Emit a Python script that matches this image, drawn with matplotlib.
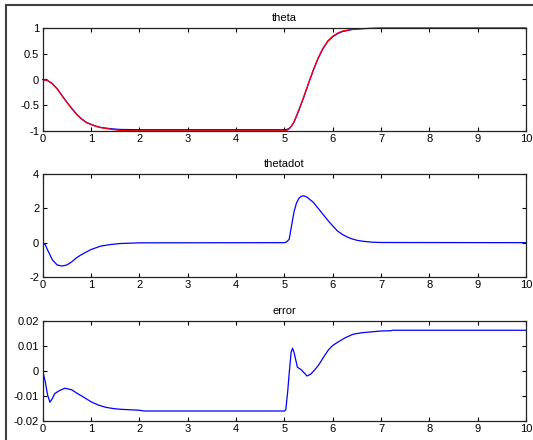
import matplotlib
matplotlib.use("Agg")
import matplotlib.pyplot as plt
from matplotlib.lines import Line2D

plt.rcParams['font.family'] = ['Liberation Sans', 'DejaVu Sans']
plt.rcParams['axes.unicode_minus'] = False

# theta: measured (blue)
t_theta = [0, 0.1, 0.2, 0.3, 0.4, 0.5, 0.6, 0.7, 0.8, 0.9, 1.0, 1.1, 1.2, 1.4, 1.6, 2.0,
           5.0, 5.05, 5.1, 5.15, 5.2, 5.3, 5.4, 5.5, 5.6, 5.7, 5.8, 5.9, 6.0, 6.1, 6.2,
           6.4, 6.6, 6.8, 7.0, 10]
theta = [0, -0.02, -0.08, -0.18, -0.31, -0.44, -0.56, -0.67, -0.76, -0.83, -0.87, -0.905,
         -0.93, -0.955, -0.97, -0.975,
         -0.975, -0.97, -0.95, -0.9, -0.83, -0.6, -0.35, -0.08, 0.18, 0.41, 0.6, 0.74,
         0.83, 0.89, 0.93, 0.97, 0.985, 0.995, 1.0, 1.0]

# theta reference (red), visible up to about t = 6.8
t_ref = [0, 0.1, 0.2, 0.3, 0.4, 0.5, 0.6, 0.7, 0.8, 0.9, 1.0, 1.1, 1.2, 1.4, 1.6, 2.0,
         5.0, 5.05, 5.1, 5.15, 5.2, 5.3, 5.4, 5.5, 5.6, 5.7, 5.8, 5.9, 6.0, 6.1, 6.2,
         6.4, 6.6, 6.8]
theta_ref = [0, -0.02, -0.085, -0.185, -0.315, -0.445, -0.565, -0.675, -0.765, -0.835,
             -0.875, -0.91, -0.935, -0.965, -0.99, -0.995,
             -0.995, -0.99, -0.96, -0.9, -0.82, -0.59, -0.34, -0.07, 0.19, 0.42, 0.61,
             0.75, 0.84, 0.9, 0.94, 0.975, 0.99, 1.0]

# thetadot
t_dot = [0, 0.05, 0.1, 0.2, 0.3, 0.4, 0.5, 0.6, 0.7, 0.8, 1.0, 1.2, 1.4, 1.6, 2.0,
         5.0, 5.05, 5.1, 5.15, 5.2, 5.25, 5.3, 5.35, 5.4, 5.45, 5.5, 5.6, 5.7, 5.8, 5.9,
         6.0, 6.1, 6.2, 6.3, 6.4, 6.5, 6.6, 6.8, 7.0, 10]
thetadot = [0, -0.1, -0.42, -1.0, -1.3, -1.36, -1.3, -1.12, -0.88, -0.7, -0.4, -0.2,
            -0.11, -0.05, -0.01,
            0, 0.05, 0.2, 1.0, 1.8, 2.3, 2.58, 2.7, 2.73, 2.68, 2.58, 2.35, 2.0, 1.65,
            1.3, 0.98, 0.68, 0.48, 0.33, 0.22, 0.14, 0.09, 0.03, 0.01, 0]

# error
t_err = [0, 0.05, 0.1, 0.15, 0.2, 0.25, 0.35, 0.46, 0.6, 0.7, 0.85, 1.0, 1.15, 1.3,
         1.45, 1.6, 1.8, 2.0, 2.1, 5.0, 5.03, 5.07, 5.1, 5.14, 5.17, 5.2, 5.27, 5.35,
         5.47, 5.55, 5.63, 5.71, 5.81, 5.91, 6.0, 6.12, 6.25, 6.42, 6.6, 6.83, 7.0,
         7.2, 7.24, 10]
error = [0, -0.004, -0.0095, -0.0125, -0.011, -0.009, -0.0078, -0.0069, -0.0075,
         -0.0088, -0.0105, -0.0123, -0.0136, -0.0145, -0.015, -0.0153, -0.0155,
         -0.0157, -0.016, -0.016, -0.0155, -0.008, -0.001, 0.0075, 0.0091, 0.0075,
         0.0015, 0.0005, -0.002, -0.0012, 0.0005, 0.0024, 0.0055, 0.0084, 0.0102,
         0.0117, 0.0132, 0.0147, 0.0153, 0.0157, 0.016, 0.0161, 0.0163, 0.0163]

x_ticks = list(range(0, 11))

W, H = 533, 440
fig = plt.figure(figsize=(W / 100, H / 100), dpi=100)

def make_ax(top, bottom):
    ax = fig.add_axes([42.7 / W, 1 - bottom / H, (526 - 42.7) / W, (bottom - top) / H])
    ax.tick_params(direction='in', length=3, width=0.8, top=True, right=True,
                   labelsize=8, pad=2.5, colors='black')
    for s in ax.spines.values():
        s.set_linewidth(0.9)
        s.set_color('#222222')
    ax.set_xlim(0, 10)
    ax.set_xticks(x_ticks)
    ax.set_xticklabels([str(v) for v in x_ticks])
    return ax

ax1 = make_ax(28, 131)
ax1.plot(t_theta, theta, color='blue', lw=0.9, clip_on=False)
ax1.plot(t_ref, theta_ref, color='red', lw=0.9)
ax1.set_ylim(-1, 1)
ax1.set_yticks([-1, -0.5, 0, 0.5, 1])
ax1.set_yticklabels(['-1', '-0.5', '0', '0.5', '1'])
ax1.set_title('theta', fontsize=8, pad=5)

ax2 = make_ax(174, 277)
ax2.plot(t_dot, thetadot, color='blue', lw=0.9)
ax2.set_ylim(-2, 4)
ax2.set_yticks([-2, 0, 2, 4])
ax2.set_yticklabels(['-2', '0', '2', '4'])
ax2.set_title('thetadot', fontsize=8, pad=5)

ax3 = make_ax(321, 421)
ax3.plot(t_err, error, color='blue', lw=0.9)
ax3.set_ylim(-0.02, 0.02)
ax3.set_yticks([-0.02, -0.01, 0, 0.01, 0.02])
ax3.set_yticklabels(['-0.02', '-0.01', '0', '0.01', '0.02'])
ax3.set_title('error', fontsize=8, pad=5)

# window border (top and left edges)
fig.add_artist(Line2D([6 / W, 1], [1 - 5 / H, 1 - 5 / H], color='#404040', lw=1.5,
                      transform=fig.transFigure))
fig.add_artist(Line2D([6 / W, 6 / W], [0, 1 - 5 / H], color='#404040', lw=1.5,
                      transform=fig.transFigure))

fig.savefig('out.png', dpi=100)
